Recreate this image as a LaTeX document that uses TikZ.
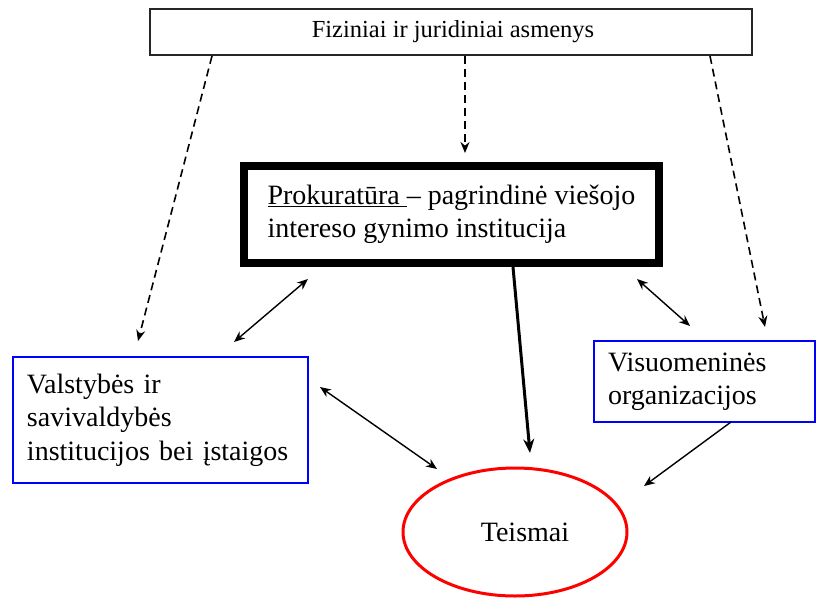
\documentclass[tikz,border=0pt]{standalone}
\usepackage{fontspec}
\setmainfont{Liberation Serif}
\usetikzlibrary{shapes.geometric,arrows.meta}
\tikzset{
  topbox/.style={draw=black!85, line width=1.3pt, minimum width=602pt, minimum height=46pt, inner sep=0pt, font=\fontsize{24.5}{28}\selectfont},
  prokbox/.style={draw=black, line width=8pt, minimum width=415pt, minimum height=97pt, align=left, inner sep=0pt, font=\fontsize{28}{33}\selectfont},
  bluebox/.style={draw=blue, line width=1.2pt, align=left, inner xsep=14pt, inner ysep=0pt, font=\fontsize{28}{33.5}\selectfont},
  courtell/.style={ellipse, draw=red, line width=3pt, minimum width=224pt, minimum height=128pt, inner sep=0pt, font=\fontsize{28}{33}\selectfont},
  dasharrow/.style={line width=1.6pt, dash pattern=on 8pt off 5pt, -{Stealth[length=11pt,width=9pt]}},
  twoway/.style={line width=1.4pt, {Stealth[length=11pt,width=9pt]}-{Stealth[length=11pt,width=9pt]}},
  onearrow/.style={line width=1.4pt, -{Stealth[length=11pt,width=9pt]}},
  thickarrow/.style={line width=3pt, -{Stealth[length=14pt,width=11pt]}}
}
\begin{document}
\begin{tikzpicture}[x=1pt,y=-1pt]
\useasboundingbox (0,0) rectangle (816,597);
\fill[white] (0,0) rectangle (816,597);

\node[topbox] (top) at (451,32) {\hspace{4pt}Fiziniai ir juridiniai asmenys};
\node[prokbox] (prok) at (451.5,214.5) {\underline{Prokuratūra\ }– pagrindinė viešojo\\intereso gynimo institucija};
\node[bluebox, text width=267pt, minimum height=126pt] (valst) at (160.5,420) {Valstybės ir\\savivaldybės\\institucijos bei įstaigos\\[-8pt]};
\node[bluebox, text width=193pt, minimum height=81pt] (visuo) at (704.5,381.5) {Visuomeninės\\organizacijos};
\node[courtell] (teis) at (515,532) {\hspace{20pt}Teismai};

% connector end points
\coordinate (d1s) at (212,56);
\coordinate (d1e) at (138,341);
\coordinate (d2s) at (465,56);
\coordinate (d2e) at (465,153);
\coordinate (d3s) at (710,56);
\coordinate (d3e) at (765,327);
\coordinate (a1s) at (308,279);
\coordinate (a1e) at (234,342);
\coordinate (a2s) at (637,279);
\coordinate (a2e) at (690,326);
\coordinate (a3s) at (320,387);
\coordinate (a3e) at (437,469);
\coordinate (t1s) at (513,267);
\coordinate (t1e) at (530,453);
\coordinate (v1s) at (731,422);
\coordinate (v1e) at (644,486);

\draw[dasharrow] (d1s) -- (d1e);
\draw[dasharrow] (d2s) -- (d2e);
\draw[dasharrow] (d3s) -- (d3e);
\draw[twoway] (a1s) -- (a1e);
\draw[twoway] (a2s) -- (a2e);
\draw[twoway] (a3s) -- (a3e);
\draw[thickarrow] (t1s) -- (t1e);
\draw[onearrow] (v1s) -- (v1e);
\end{tikzpicture}
\end{document}
